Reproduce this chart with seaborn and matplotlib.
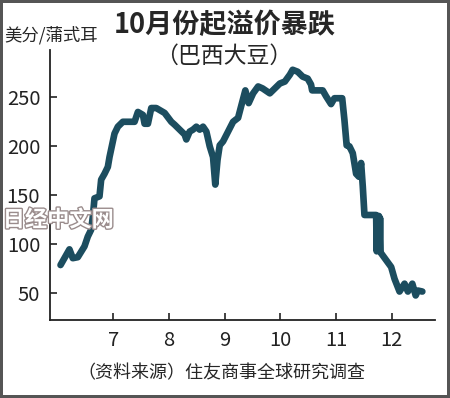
import numpy as np
import pandas as pd
import matplotlib
matplotlib.use("Agg")
import matplotlib.pyplot as plt
import matplotlib.patheffects as pe
import seaborn as sns

# month position (7 = start of July) and price in cents/bushel
months = [6.05, 6.21, 6.27, 6.36, 6.48, 6.54, 6.60, 6.63, 6.66, 6.75, 6.78, 6.84,
          6.90, 6.93, 7.02, 7.08, 7.17, 7.38, 7.44, 7.53, 7.56, 7.62, 7.68, 7.77,
          7.92, 8.04, 8.10, 8.19, 8.28, 8.31, 8.37, 8.43, 8.49, 8.55, 8.61, 8.67,
          8.73, 8.79, 8.83, 8.87, 8.91, 8.97, 9.06, 9.15, 9.24, 9.30, 9.37, 9.43,
          9.51, 9.60, 9.68, 9.81, 9.90, 9.99, 10.08, 10.17, 10.22, 10.31, 10.40,
          10.49, 10.55, 10.57, 10.76, 10.82, 10.91, 10.97, 11.11, 11.15, 11.19,
          11.24, 11.30, 11.36, 11.41, 11.45, 11.48, 11.51, 11.72, 11.73, 11.745,
          11.755, 11.77, 11.78, 11.79, 11.80, 11.81, 11.90, 11.99, 12.05, 12.14,
          12.23, 12.29, 12.37, 12.43, 12.47, 12.55]
prices = [79, 95, 86, 87, 98, 108, 115, 128, 147, 149, 166, 172,
          179, 189, 213, 220, 225, 225, 235, 232, 223, 223, 239, 239,
          234, 225, 222, 217, 212, 207, 215, 217, 220, 217, 220, 215,
          200, 189, 161, 186, 201, 205, 215, 225, 229, 242, 257, 244,
          254, 261, 259, 254, 259, 264, 266, 273, 278, 276, 271,
          269, 263, 257, 257, 251, 243, 249, 249, 227, 201,
          200, 193, 172, 169, 183, 159, 130, 130, 93, 128,
          94, 129, 95, 127, 92, 91, 84, 77, 65, 52,
          60, 52, 60, 48, 53, 52]

month_ticks = [7, 8, 9, 10, 11, 12]
price_ticks = [50, 100, 150, 200, 250]

df = pd.DataFrame({"month": months, "price": prices})

sns.set_style("ticks")
plt.rcParams['font.family'] = ['Noto Sans CJK SC', 'DejaVu Sans']

fig = plt.figure(figsize=(4.5, 3.98), dpi=100)
fig.patch.set_edgecolor('#555555')
fig.patch.set_linewidth(3)
ax = fig.add_axes([0.111, 0.196, 0.856, 0.678])

sns.lineplot(data=df, x="month", y="price", sort=False, color='#1c4d5f',
             linewidth=4.8, ax=ax, zorder=3)
ax.lines[0].set_solid_joinstyle('round')
ax.lines[0].set_solid_capstyle('round')

ax.set_xlim(5.86, 12.78)
ax.set_ylim(23, 298)
ax.set_xticks(month_ticks)
ax.set_yticks(price_ticks)
ax.set_xlabel('')
ax.set_ylabel('')
ax.tick_params(direction='in', length=5, width=1.2, colors='#222222',
               labelsize=14.5, pad=7)
for s in ['top', 'right']:
    ax.spines[s].set_visible(False)
for s in ['left', 'bottom']:
    ax.spines[s].set_linewidth(1.3)
    ax.spines[s].set_color('#222222')

fig.text(0.5, 0.937, '10月份起溢价暴跌', ha='center', va='center',
         fontsize=19.5, fontweight='bold')
fig.text(0.498, 0.858, '（巴西大豆）', ha='center', va='center', fontsize=16.5)
fig.text(0.01, 0.912, '美分/蒲式耳', ha='left', va='center', fontsize=12.5)
fig.text(0.493, 0.062, '（资料来源）住友商事全球研究调查', ha='center', va='center',
         fontsize=13)
fig.text(0.006, 0.447, '日经中文网', ha='left', va='center', fontsize=16,
         fontweight='bold', color='white', zorder=1,
         path_effects=[pe.withStroke(linewidth=2, foreground='#9a8c8c')])

fig.savefig('out.png', dpi=100)
